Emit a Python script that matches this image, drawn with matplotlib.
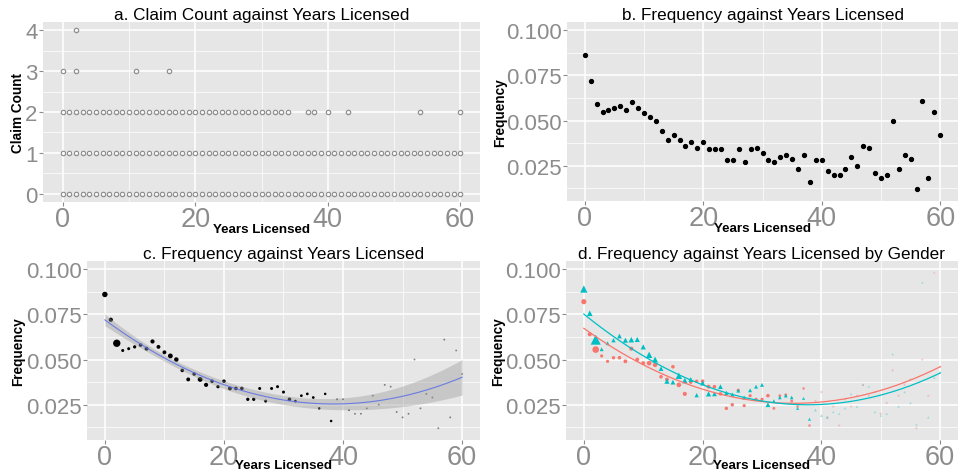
import numpy as np
import matplotlib
matplotlib.use('Agg')
import matplotlib.pyplot as plt
from matplotlib.ticker import MultipleLocator

plt.rcParams['font.family'] = ['Liberation Sans', 'DejaVu Sans']

# years licensed 0..60
years = np.arange(0, 61)

# claim counts observed at each years-licensed value
years_claim0 = list(range(0, 61))
years_claim1 = list(range(0, 61))
years_claim2 = list(range(0, 35)) + [37, 38, 40, 43, 54, 60]
years_claim3 = [0, 2, 11, 16]
years_claim4 = [2]

# overall claim frequency by years licensed
freq = [0.086, 0.072, 0.059, 0.055, 0.056, 0.057, 0.058, 0.056, 0.060, 0.057,
        0.054, 0.052, 0.050, 0.044, 0.039, 0.042, 0.039, 0.036, 0.038, 0.035,
        0.038, 0.034, 0.034, 0.034, 0.028, 0.028, 0.034, 0.027, 0.034, 0.035,
        0.032, 0.028, 0.027, 0.030, 0.031, 0.029, 0.023, 0.031, 0.016, 0.028,
        0.028, 0.022, 0.020, 0.020, 0.023, 0.030, 0.025, 0.036, 0.035, 0.021,
        0.018, 0.020, 0.050, 0.023, 0.031, 0.029, 0.012, 0.061, 0.018, 0.055, 0.042]

# frequency by gender
freq_female = [0.082, 0.064, 0.0555, 0.052, 0.049, 0.051, 0.051, 0.049, 0.056, 0.050,
               0.048, 0.048, 0.047, 0.0405, 0.039, 0.046, 0.036, 0.031, 0.0375, 0.038,
               0.038, 0.035, 0.035, 0.031, 0.023, 0.025, 0.033, 0.0245, 0.030, 0.028,
               0.028, 0.030, 0.023, 0.030, 0.0305, 0.027, 0.024, 0.034, 0.0135, 0.027,
               0.032, 0.018, 0.024, 0.0135, 0.028, 0.024, 0.030, 0.036, 0.030, 0.032,
               0.020, 0.026, 0.044, 0.030, 0.036, 0.039, 0.012, 0.050, 0.030, 0.098, 0.046]
freq_male = [0.089, 0.0756, 0.061, 0.0557, 0.059, 0.0607, 0.063, 0.0607, 0.061, 0.0611,
             0.057, 0.0526, 0.050, 0.045, 0.038, 0.0375, 0.041, 0.0384, 0.039, 0.0303,
             0.037, 0.031, 0.031, 0.035, 0.0316, 0.0306, 0.0328, 0.029, 0.033, 0.035,
             0.036, 0.025, 0.027, 0.029, 0.030, 0.029, 0.023, 0.0285, 0.017, 0.022,
             0.019, 0.018, 0.021, 0.020, 0.023, 0.031, 0.024, 0.036, 0.035, 0.021,
             0.019, 0.020, 0.053, 0.024, 0.032, 0.026, 0.014, 0.0926, 0.018, 0.040, 0.043]

# exposure (thousand policy years) by gender
exposure_female = [4.6, 2.5, 8.0, 1.2, 1.2, 1.5, 1.8, 2.2, 2.6, 2.2,
                   2.2, 3.6, 3.1, 1.8, 2.2, 1.8, 3.6, 2.6, 1.8, 1.5,
                   1.8, 2.2, 1.8, 1.8, 1.5, 1.5, 1.2, 1.2, 1.2, 1.2,
                   1.2, 1.8, 0.9, 0.9, 0.9, 0.9, 0.7, 0.7, 0.7, 0.3,
                   0.3, 0.3, 0.25, 0.25, 0.25, 0.25, 0.25, 0.25, 0.25, 0.25,
                   0.25, 0.25, 0.25, 0.25, 0.25, 0.25, 0.25, 0.25, 0.25, 0.2, 0.25]
exposure_male = [6.0, 3.5, 12.0, 1.4, 1.4, 1.8, 2.3, 2.8, 3.3, 2.8,
                 2.8, 4.5, 3.9, 2.3, 2.8, 2.3, 4.5, 3.3, 2.3, 1.8,
                 2.3, 2.8, 2.3, 2.3, 1.8, 1.8, 1.4, 1.4, 1.4, 1.4,
                 1.4, 2.3, 1.1, 1.1, 1.1, 1.1, 0.8, 0.8, 0.8, 0.35,
                 0.35, 0.35, 0.25, 0.25, 0.25, 0.25, 0.25, 0.25, 0.25, 0.25,
                 0.25, 0.25, 0.25, 0.25, 0.25, 0.25, 0.25, 0.25, 0.25, 0.25, 0.25]

exposure_total = np.array(exposure_female) + np.array(exposure_male)

BG = '#E6E6E6'
TICK_C = '#8C8C8C'
RED = '#F8766D'
TEAL = '#00BFC4'


def wquad_fit(x, y, w, xs):
    # weighted quadratic regression (like geom_smooth lm, y ~ poly(x, 2))
    x = np.asarray(x, float)
    y = np.asarray(y, float)
    w = np.asarray(w, float)
    X = np.vander(x, 3)
    XtW = X.T * w
    A = XtW @ X
    beta = np.linalg.solve(A, XtW @ y)
    r = y - X @ beta
    sigma2 = np.sum(w * r ** 2) / (len(x) - 3)
    cov = sigma2 * np.linalg.inv(A)
    Xs = np.vander(xs, 3)
    fit = Xs @ beta
    se = np.sqrt(np.einsum('ij,jk,ik->i', Xs, cov, Xs))
    return fit, se


def style_ax(ax, title, ylabel, ytick_size, title_pad, xlab_y, ylab_x):
    ax.set_facecolor(BG)
    for s in ax.spines.values():
        s.set_visible(False)
    ax.set_xlim(-3, 63)
    ax.xaxis.set_major_locator(MultipleLocator(20))
    ax.xaxis.set_minor_locator(MultipleLocator(10))
    ax.grid(which='major', color='white', lw=1.1)
    ax.grid(which='minor', color='white', lw=0.5)
    ax.set_axisbelow(True)
    ax.tick_params(which='major', length=3, width=0.8, color=TICK_C, labelcolor=TICK_C, pad=1)
    ax.tick_params(which='minor', length=0)
    ax.tick_params(axis='x', labelsize=19.5, pad=0)
    ax.tick_params(axis='y', labelsize=ytick_size)
    ax.set_title(title, fontsize=12.3, pad=title_pad)
    ax.set_xlabel('Years Licensed', fontsize=9.6, fontweight='bold')
    ax.xaxis.set_label_coords(0.5, xlab_y)
    ax.xaxis.label.set_va('center')
    ax.set_ylabel(ylabel, fontsize=9.8, fontweight='bold')
    ax.yaxis.set_label_coords(ylab_x, 0.5)
    ax.yaxis.label.set_va('center')


def freq_axis(ax):
    ax.set_ylim(0.0055, 0.1045)
    ax.yaxis.set_major_locator(MultipleLocator(0.025))
    ax.yaxis.set_minor_locator(MultipleLocator(0.0125))
    ax.yaxis.set_major_formatter(plt.FuncFormatter(lambda v, p: '%.3f' % v))


fig = plt.figure(figsize=(9.58, 4.77), dpi=100)

# a. claim count scatter
ax1 = fig.add_axes([0.04489, 0.57443, 0.45616, 0.37736])
for cnt, yrs in enumerate([years_claim0, years_claim1, years_claim2, years_claim3, years_claim4]):
    ax1.plot(yrs, [cnt] * len(yrs), 'o', ms=3.2, mfc='none', mec='#8A8A8A', mew=0.8)
ax1.set_ylim(-0.2, 4.2)
ax1.yaxis.set_major_locator(MultipleLocator(1))
ax1.yaxis.set_minor_locator(MultipleLocator(0.5))
style_ax(ax1, 'a. Claim Count against Years Licensed', 'Claim Count', 16, 1, -0.152, -0.0565)

# b. frequency scatter
ax2 = fig.add_axes([0.59186, 0.57652, 0.40814, 0.37526])
ax2.plot(years, freq, 'o', ms=2.8, color='black')
freq_axis(ax2)
style_ax(ax2, 'b. Frequency against Years Licensed', 'Frequency', 16, 1, -0.152, -0.172)

xs = np.linspace(0, 60, 200)

# c. frequency with exposure-weighted quadratic smooth
ax3 = fig.add_axes([0.09081, 0.07547, 0.41023, 0.37526])
sizes = 1.2 + 1.34 * exposure_total
alphas = np.clip(0.15 + 0.6 * exposure_total, 0, 1)
cols = np.zeros((len(years), 4))
cols[:, 3] = alphas
ax3.scatter(years, freq, s=sizes, c=cols, linewidths=0)
fit, se = wquad_fit(years, freq, exposure_total, xs)
ax3.fill_between(xs, fit - 2.0 * se, fit + 2.0 * se, color='#999999', alpha=0.4, lw=0)
ax3.plot(xs, fit, color='#5A6EE8', lw=0.8, alpha=0.85)
freq_axis(ax3)
style_ax(ax3, 'c. Frequency against Years Licensed', 'Frequency', 16, 2.5, -0.14, -0.176)

# d. by gender
ax4 = fig.add_axes([0.59081, 0.07547, 0.40919, 0.37526])
for fr, ex, col, mk, k in [(freq_female, exposure_female, RED, 'o', 2.6), (freq_male, exposure_male, TEAL, '^', 4.2)]:
    ex = np.array(ex)
    rgba = np.tile(matplotlib.colors.to_rgba(col), (len(years), 1))
    rgba[:, 3] = np.clip(0.1 + 0.9 * ex, 0, 1)
    ax4.scatter(years, fr, s=2 + k * ex, c=rgba, marker=mk, linewidths=0)
for fr, ex, col in [(freq_female, exposure_female, RED), (freq_male, exposure_male, TEAL)]:
    f, _ = wquad_fit(years, fr, ex, xs)
    ax4.plot(xs, f, color=col, lw=0.9)
freq_axis(ax4)
style_ax(ax4, 'd. Frequency against Years Licensed by Gender', 'Frequency', 16, 2.5, -0.14, -0.172)

plt.savefig('out.png', dpi=100)
